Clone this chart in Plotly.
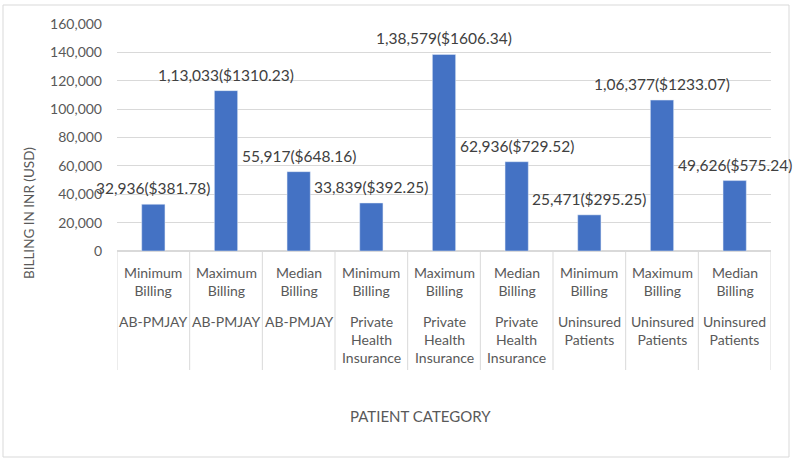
import plotly.graph_objects as go

measures = ["Minimum<br>Billing", "Maximum<br>Billing", "Median<br>Billing"] * 3
groups = ["AB-PMJAY"] * 3 + ["Private<br>Health<br>Insurance"] * 3 + ["Uninsured<br>Patients"] * 3
inr_values = [32936, 113033, 55917, 33839, 138579, 62936, 25471, 106377, 49626]
usd_values = ["381.78", "1310.23", "648.16", "392.25", "1606.34", "729.52", "295.25", "1233.07", "575.24"]


def indian(n):
    s = str(n)
    if len(s) <= 3:
        return s
    head, tail = s[:-3], s[-3:]
    parts = []
    while len(head) > 2:
        parts.insert(0, head[-2:])
        head = head[:-2]
    if head:
        parts.insert(0, head)
    return ",".join(parts) + "," + tail


labels = [f"{indian(v)}(${u})" for v, u in zip(inr_values, usd_values)]
xs = list(range(len(inr_values)))

FONT = "Lato"
TXT = "#595959"

fig = go.Figure(go.Bar(x=xs, y=inr_values, marker_color="#4472C4", width=0.32,
                       hoverinfo="skip"))

W, H = 795, 463
L, R, T, B = 117, 24, 24, 212
pw, ph = W - L - R, H - T - B


def px_x(p):
    return (p - L) / pw


def px_y(p):
    return (H - B - p) / ph


ann = []
for x, v, lab in zip(xs, inr_values, labels):
    ann.append(dict(x=x, y=v, text=lab, showarrow=False, yanchor="bottom", yshift=5,
                    xanchor="center",
                    font=dict(family=FONT, size=15.5, color="#404040")))
for x, m, g in zip(xs, measures, groups):
    ann.append(dict(x=x, y=px_y(262), yref="paper", text=m, showarrow=False, yanchor="top",
                    xanchor="center",
                    font=dict(family=FONT, size=14, color=TXT)))
    ann.append(dict(x=x, y=px_y(311), yref="paper", text=g, showarrow=False, yanchor="top",
                    xanchor="center",
                    font=dict(family=FONT, size=14, color=TXT)))
ann.append(dict(x=px_x(420), y=px_y(416), xref="paper", yref="paper", text="PATIENT CATEGORY",
                showarrow=False, xanchor="center", yanchor="middle",
                font=dict(family=FONT, size=15, color=TXT)))
ann.append(dict(x=px_x(29), y=px_y(213), xref="paper", yref="paper", text="BILLING IN INR (USD)",
                showarrow=False, textangle=-90, xanchor="center", yanchor="middle",
                font=dict(family=FONT, size=13.5, color=TXT)))

shapes = []
for i in range(len(xs) + 1):
    shapes.append(dict(type="line", xref="x", yref="paper", x0=i - 0.5, x1=i - 0.5,
                       y0=0, y1=px_y(370), line=dict(color="#d9d9d9", width=1)))
shapes.append(dict(type="rect", xref="paper", yref="paper", x0=px_x(3), x1=px_x(789),
                   y0=px_y(5), y1=px_y(457), line=dict(color="#d9d9d9", width=1)))

fig.update_layout(
    width=W, height=H, margin=dict(l=L, r=R, t=T, b=B),
    paper_bgcolor="white", plot_bgcolor="white", showlegend=False,
    annotations=ann, shapes=shapes,
    xaxis=dict(range=[-0.5, len(xs) - 0.5], showticklabels=False, showgrid=False,
               zeroline=False, showline=False, fixedrange=True),
    yaxis=dict(range=[0, 160000], dtick=20000, tickformat=",", showgrid=True,
               gridcolor="#d9d9d9", gridwidth=1, zeroline=True, zerolinecolor="#d9d9d9",
               ticks="", ticklabelstandoff=14,
               tickfont=dict(family=FONT, size=14, color=TXT)),
)
fig.update_traces(cliponaxis=False)
fig.write_html("out.html")
